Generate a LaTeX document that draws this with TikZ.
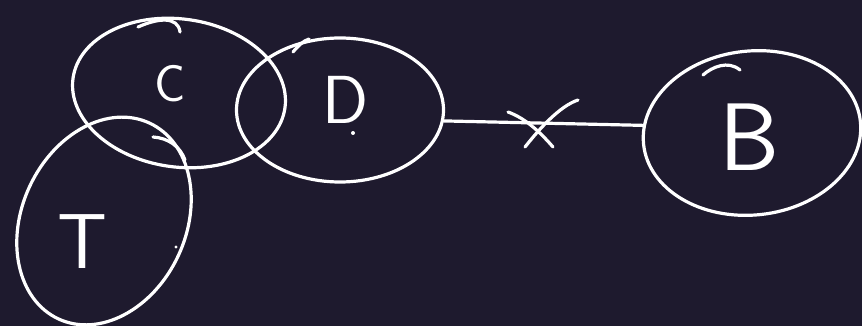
\documentclass[tikz,border=0pt]{standalone}
\usetikzlibrary{shapes.geometric}
\definecolor{bg}{HTML}{1E1A2E}
\tikzset{
  ring/.style={ellipse, draw=white, line width=3.2pt, inner sep=0pt},
  stroke/.style={draw=white, line width=3.2pt, line cap=round},
  lbl/.style={text=white, inner sep=0pt}
}
\begin{document}
\begin{tikzpicture}[x=1pt, y=-1pt]
\fill[bg] (0,0) rectangle (862,326);
\useasboundingbox (0,0) rectangle (862,326);
% ellipses
\node[ring, minimum width=214pt, minimum height=148pt, rotate=-8] (C) at (179,93) {};
\node[ring, minimum width=207pt, minimum height=144pt] (D) at (340,110) {};
\node[ring, minimum width=216pt, minimum height=164pt, rotate=65] (T) at (104,221) {};
\node[ring, minimum width=218pt, minimum height=164pt, rotate=6] (B) at (752,133) {};
% labels
\node[lbl, font=\sffamily\fontsize{52}{52}\selectfont] (lc) at (170,84) {C};
\node[lbl, font=\sffamily\fontsize{68}{68}\selectfont] (ld) at (346,100) {D};
\node[lbl, font=\sffamily\fontsize{78}{78}\selectfont] (lt) at (82,242) {T};
\node[lbl, font=\sffamily\fontsize{96}{96}\selectfont] (lb) at (750,137) {B};
% dots
\fill[white] (353,133) circle (2pt);
\fill[white] (176,247) circle (1.6pt);
% pen overlaps
\draw[stroke] (138,27) .. controls (158,18) and (178,16) .. (180,32);
\draw[stroke] (293,52) .. controls (298,46) and (303,41) .. (309,39);
\draw[stroke] (153,137) .. controls (168,138) and (180,146) .. (185,160);
\draw[stroke] (703,75) .. controls (712,67) and (728,60) .. (740,70);
% connector
\draw[stroke] (D.-6) -- (B.170);
% cross mark
\coordinate (x1) at (508,112);
\coordinate (x2) at (553,147);
\coordinate (x3) at (525,147);
\coordinate (x4) at (578,100);
\draw[stroke] (x1) .. controls (525,118) and (540,132) .. (x2);
\draw[stroke] (x3) .. controls (540,128) and (560,106) .. (x4);
\end{tikzpicture}
\end{document}
